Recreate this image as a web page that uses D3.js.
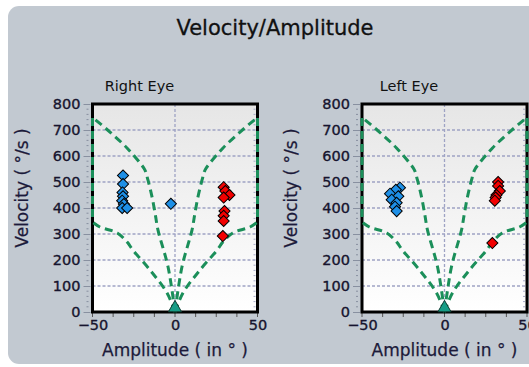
<!DOCTYPE html>
<html>
<head>
<meta charset="utf-8">
<script src="https://cdn.jsdelivr.net/npm/d3@7"></script>
<style>
  body { margin: 0; background: #fff; }
  text { font-family: "DejaVu Sans", sans-serif; }
</style>
</head>
<body>
<div id="chart"></div>
<script>
// chart values
const chartTitle = "Velocity/Amplitude";
const panelTitles = ["Right Eye", "Left Eye"];
const xTicks = [-50, 0, 50];
const yTicks = [0, 100, 200, 300, 400, 500, 600, 700, 800];

// boundary curves (left half, amplitude <= 0), mirrored for the right half
const upperBound = [[0, 0], [-4.2, 173], [-10.3, 315], [-12.1, 381], [-13.9, 442], [-16.4, 508],
  [-18.2, 546], [-21.2, 573], [-29.1, 631], [-39.4, 692], [-49.5, 746]];
const lowerBound = [[0, 0], [-4.8, 73], [-15.2, 162], [-25.5, 238], [-29, 269], [-35, 304],
  [-45.5, 327], [-50, 346]];

// saccade points [amplitude, velocity]
const rightBlue = [[-31.5, 525], [-31.5, 492], [-31.8, 460], [-31.5, 445], [-32, 428],
  [-31, 415], [-32, 400], [-29, 400], [-2.5, 416]];
const rightRed = [[29.5, 480], [30.5, 465], [33, 450], [29.5, 440], [30, 388], [29.5, 370],
  [29.5, 350], [29, 292]];
const leftBlue = [[-27, 478], [-29.5, 470], [-33, 455], [-28, 445], [-32, 432], [-29, 420],
  [-30, 405], [-29, 388]];
const leftRed = [[32.5, 500], [32.5, 485], [33.5, 465], [31.5, 450], [31, 440], [30.5, 428],
  [29, 265]];

const W = 529, H = 367;

const svg = d3.select("#chart")
  .append("svg")
  .attr("width", W)
  .attr("height", H);

const defs = svg.append("defs");
const grad = defs.append("linearGradient")
  .attr("id", "plotbg")
  .attr("x1", 0).attr("y1", 0).attr("x2", 0).attr("y2", 1);
grad.append("stop").attr("offset", "0%").attr("stop-color", "#e6e6e6");
grad.append("stop").attr("offset", "100%").attr("stop-color", "#ffffff");

// grey window panel
svg.append("rect")
  .attr("x", 8).attr("y", 6)
  .attr("width", 560).attr("height", 358)
  .attr("rx", 11)
  .attr("fill", "#c2c9d1");

svg.append("text")
  .attr("x", 275).attr("y", 35)
  .attr("text-anchor", "middle")
  .attr("font-size", 21)
  .attr("fill", "#111")
  .attr("stroke", "#111")
  .attr("stroke-width", 0.3)
  .text(chartTitle);

const panels = [
  { title: panelTitles[0], left: 92.5, blue: rightBlue, red: rightRed },
  { title: panelTitles[1], left: 362, blue: leftBlue, red: leftRed }
];

panels.forEach(function (p) {
  const x = d3.scaleLinear().domain([-50, 50]).range([p.left, p.left + 165]);
  const y = d3.scaleLinear().domain([0, 800]).range([312, 104]);
  const g = svg.append("g");

  // plot background
  g.append("rect")
    .attr("x", x(-50)).attr("y", y(800))
    .attr("width", x(50) - x(-50)).attr("height", y(0) - y(800))
    .attr("fill", "url(#plotbg)");

  // grid
  g.selectAll(".hgrid")
    .data(yTicks.filter(d => d > 0 && d < 800))
    .join("line")
    .attr("x1", x(-50)).attr("x2", x(50))
    .attr("y1", d => y(d)).attr("y2", d => y(d))
    .attr("stroke", "#9ea3c4")
    .attr("stroke-width", 1.3)
    .attr("stroke-dasharray", "3,2");
  g.append("line")
    .attr("x1", x(0)).attr("x2", x(0))
    .attr("y1", y(800)).attr("y2", y(0))
    .attr("stroke", "#9ea3c4")
    .attr("stroke-width", 1.3)
    .attr("stroke-dasharray", "3,2");

  // minor ticks
  const yMinor = d3.range(0, 801, 20).filter(d => d % 100 != 0);
  g.selectAll(".ymin")
    .data(yMinor)
    .join("line")
    .attr("x1", x(-50) - 6).attr("x2", x(-50) - 4)
    .attr("y1", d => y(d)).attr("y2", d => y(d))
    .attr("stroke", "#8890a0");
  g.selectAll(".ymin2")
    .data(yMinor)
    .join("line")
    .attr("x1", x(50) - 4).attr("x2", x(50) - 2)
    .attr("y1", d => y(d)).attr("y2", d => y(d))
    .attr("stroke", "#a4a8c6");
  g.selectAll(".xmin")
    .data(d3.range(-50, 51, 12.5))
    .join("line")
    .attr("x1", d => x(d)).attr("x2", d => x(d))
    .attr("y1", y(0) + 1).attr("y2", y(0) + 5)
    .attr("stroke", "#555");

  // axes
  const yAxis = g.append("g")
    .attr("transform", "translate(" + (x(-50) - 2) + ",0)")
    .call(d3.axisLeft(y).tickValues(yTicks).tickSize(7).tickPadding(3));
  const xAxis = g.append("g")
    .attr("transform", "translate(0," + (y(0) + 2) + ")")
    .call(d3.axisBottom(x).tickValues(xTicks).tickSize(0).tickPadding(6));
  [yAxis, xAxis].forEach(function (a) {
    a.select(".domain").remove();
    a.selectAll("line").attr("stroke", "#8890a0");
    a.selectAll("text")
      .attr("font-size", 14.5)
      .attr("font-family", "DejaVu Sans")
      .attr("fill", "#16142e")
      .attr("stroke", "#16142e")
      .attr("stroke-width", 0.35);
  });

  // frame
  g.append("rect")
    .attr("x", x(-50)).attr("y", y(800))
    .attr("width", x(50) - x(-50)).attr("height", y(0) - y(800))
    .attr("fill", "none")
    .attr("stroke", "#000")
    .attr("stroke-width", 3);

  // boundary curves
  const line = d3.line()
    .x(d => x(d[0]))
    .y(d => y(d[1]))
    .curve(d3.curveCatmullRom.alpha(0.5));
  [1, -1].forEach(function (s) {
    const up = upperBound.map(d => [d[0] * s, d[1]]);
    const lo = lowerBound.map(d => [d[0] * s, d[1]]);
    const last = up[up.length - 1];
    g.append("path")
      .attr("d", line(up))
      .attr("fill", "none")
      .attr("stroke", "#1b8f5a")
      .attr("stroke-width", 3)
      .attr("stroke-dasharray", "8,5");
    g.append("path")
      .attr("d", line(lo))
      .attr("fill", "none")
      .attr("stroke", "#1b8f5a")
      .attr("stroke-width", 3)
      .attr("stroke-dasharray", "8,5");
    g.append("line")
      .attr("x1", x(50 * -s)).attr("x2", x(50 * -s))
      .attr("y1", y(last[1])).attr("y2", y(lo[lo.length - 1][1]))
      .attr("stroke", "#1b8f5a")
      .attr("stroke-width", 3)
      .attr("stroke-dasharray", "8,5");
  });

  // points
  const diamond = d3.symbol().type(d3.symbolSquare).size(62);
  g.selectAll(".blue")
    .data(p.blue)
    .join("path")
    .attr("d", diamond)
    .attr("transform", d => "translate(" + x(d[0]) + "," + y(d[1]) + ") rotate(45)")
    .attr("fill", "#1e8fe6")
    .attr("stroke", "#000")
    .attr("stroke-width", 1);
  g.selectAll(".red")
    .data(p.red)
    .join("path")
    .attr("d", diamond)
    .attr("transform", d => "translate(" + x(d[0]) + "," + y(d[1]) + ") rotate(45)")
    .attr("fill", "#f20000")
    .attr("stroke", "#000")
    .attr("stroke-width", 1);

  // origin marker
  g.append("path")
    .attr("d", d3.symbol().type(d3.symbolTriangle).size(75))
    .attr("transform", "translate(" + x(0) + "," + (y(0) - 4) + ")")
    .attr("fill", "#179c86")
    .attr("stroke", "#0d3a30")
    .attr("stroke-width", 1);

  // titles
  g.append("text")
    .attr("x", x(-50) + 47).attr("y", 91)
    .attr("text-anchor", "middle")
    .attr("font-size", 14.5)
    .attr("fill", "#111")
    .text(p.title);
  g.append("text")
    .attr("x", x(0)).attr("y", 356)
    .attr("text-anchor", "middle")
    .attr("font-size", 17)
    .attr("fill", "#1c1a3a")
    .attr("stroke", "#1c1a3a")
    .attr("stroke-width", 0.25)
    .text("Amplitude ( in ° )");
  g.append("text")
    .attr("transform", "translate(" + (x(-50) - 65) + ",188) rotate(-90)")
    .attr("text-anchor", "middle")
    .attr("font-size", 17)
    .attr("fill", "#1c1a3a")
    .attr("stroke", "#1c1a3a")
    .attr("stroke-width", 0.25)
    .text("Velocity ( °/s )");
});
</script>
</body>
</html>
